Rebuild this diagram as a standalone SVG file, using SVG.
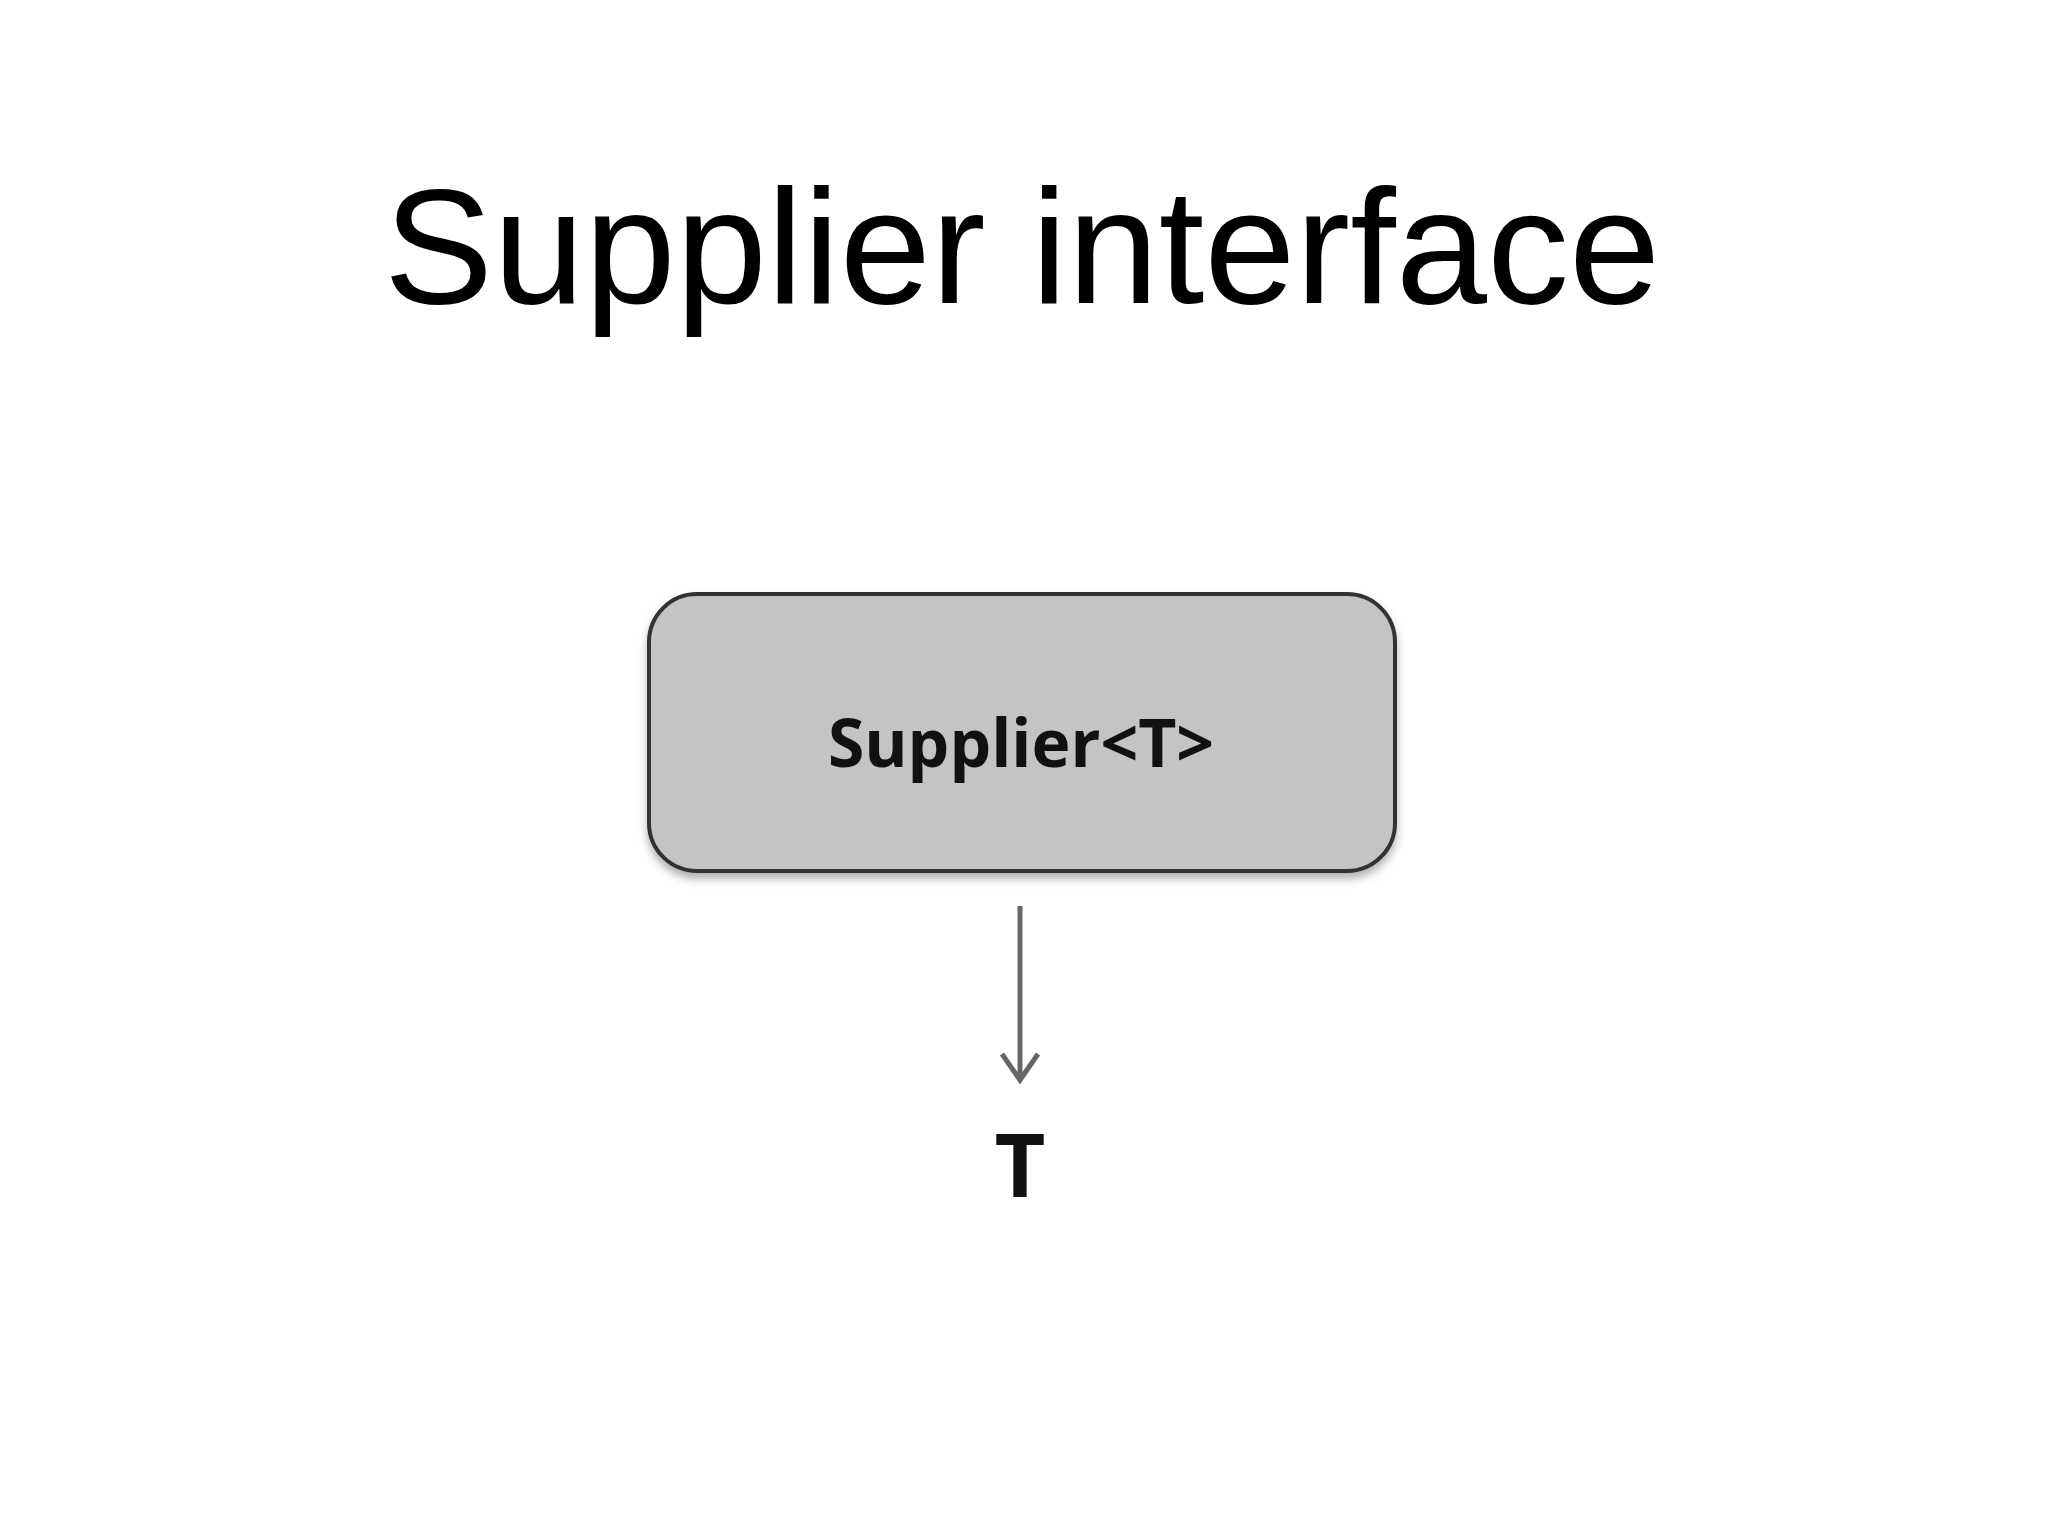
<svg xmlns="http://www.w3.org/2000/svg" width="2048" height="1536" viewBox="0 0 2048 1536">
<style>
.title{font-family:"Liberation Sans",Arial,sans-serif;font-weight:300;font-size:164px;fill:#000}
.lbl{font-family:"Open Sans","Liberation Sans",sans-serif;font-weight:bold;fill:#111}
</style>
<defs>
<filter id="sh" x="-5%" y="-5%" width="110%" height="115%"><feDropShadow dx="0" dy="6" stdDeviation="4" flood-color="#000" flood-opacity="0.3"/></filter>
</defs>
<rect width="2048" height="1536" fill="#fff"/>
<text class="title" x="1022" y="303" text-anchor="middle">Supplier interface</text>
<g id="supplier">
<rect x="649" y="594" width="746" height="277" rx="48" fill="#c4c4c4" stroke="#333" stroke-width="4" filter="url(#sh)"/>
<text class="lbl" x="1021" y="767" font-size="66" text-anchor="middle">Supplier&lt;T&gt;</text>
</g>
<g id="connectors">
<line x1="1020" y1="906" x2="1020" y2="1078" stroke="#666" stroke-width="5"/>
<path d="M1002,1054 L1020,1080 L1038,1054" fill="none" stroke="#666" stroke-width="5"/>
</g>
<g id="t">
<text class="lbl" x="1020" y="1197" font-size="88" text-anchor="middle">T</text>
</g>
</svg>
